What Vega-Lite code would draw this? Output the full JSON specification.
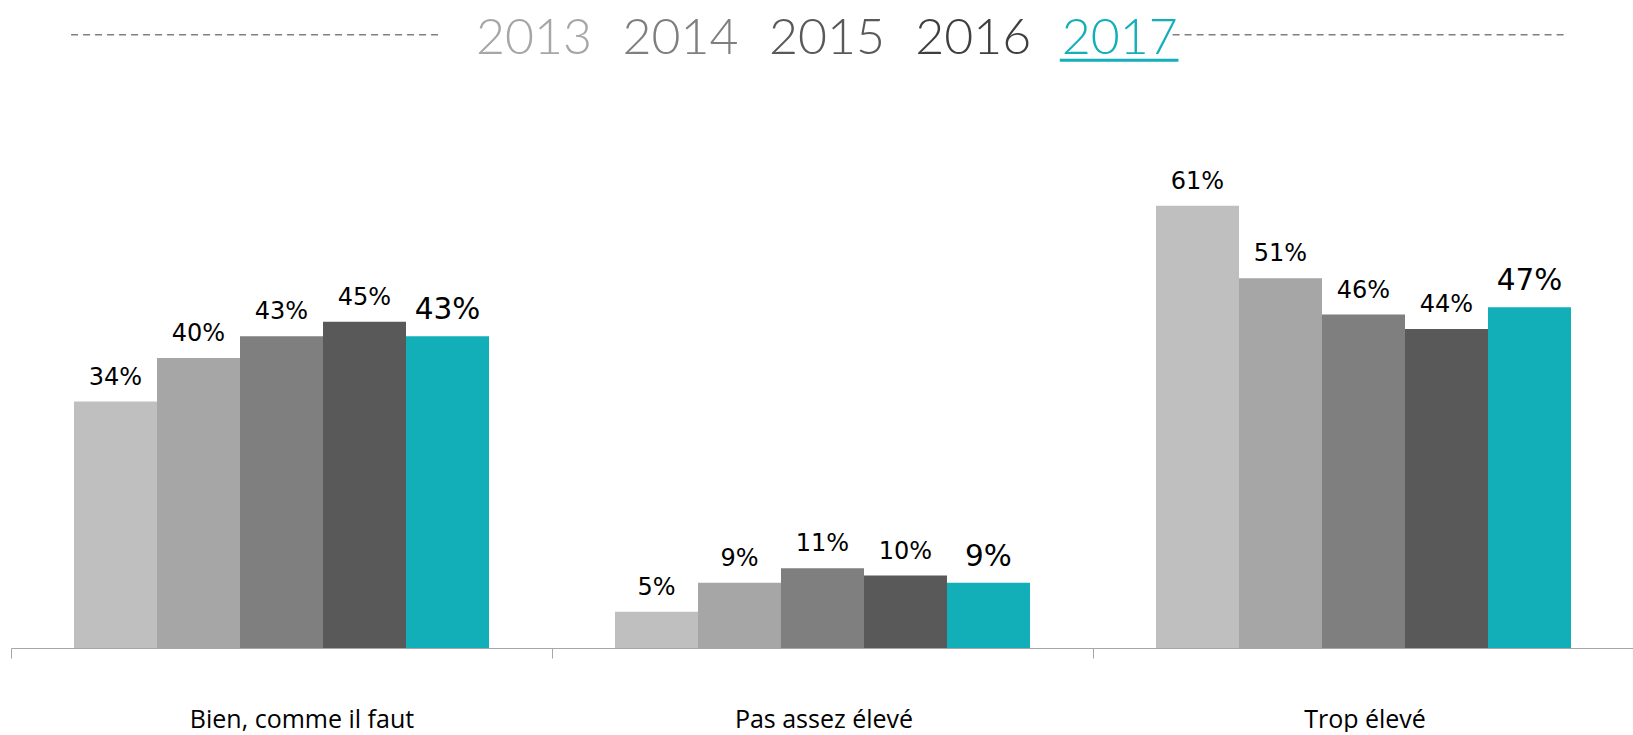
{
  "$schema": "https://vega.github.io/schema/vega-lite/v6.json",
  "width": 1623,
  "height": 648,
  "padding": {"left": 10, "top": 0, "right": 0, "bottom": 0},
  "background": "white",
  "config": {"view": {"stroke": null}},
  "datasets": {
    "bars": [
      {"category": "Bien, comme il faut", "year": "2013", "value": 0.34},
      {"category": "Bien, comme il faut", "year": "2014", "value": 0.40},
      {"category": "Bien, comme il faut", "year": "2015", "value": 0.43},
      {"category": "Bien, comme il faut", "year": "2016", "value": 0.45},
      {"category": "Bien, comme il faut", "year": "2017", "value": 0.43},
      {"category": "Pas assez élevé", "year": "2013", "value": 0.05},
      {"category": "Pas assez élevé", "year": "2014", "value": 0.09},
      {"category": "Pas assez élevé", "year": "2015", "value": 0.11},
      {"category": "Pas assez élevé", "year": "2016", "value": 0.10},
      {"category": "Pas assez élevé", "year": "2017", "value": 0.09},
      {"category": "Trop élevé", "year": "2013", "value": 0.61},
      {"category": "Trop élevé", "year": "2014", "value": 0.51},
      {"category": "Trop élevé", "year": "2015", "value": 0.46},
      {"category": "Trop élevé", "year": "2016", "value": 0.44},
      {"category": "Trop élevé", "year": "2017", "value": 0.47}
    ],
    "header": [
      {"year": 2013, "label": "2013"},
      {"year": 2014, "label": "2014"},
      {"year": 2015, "label": "2015"},
      {"year": 2016, "label": "2016"},
      {"year": 2017, "label": "2017"}
    ],
    "dashes": [
      {"from": 2009.84, "to": 2012.37},
      {"from": 2017.36, "to": 2020.04}
    ],
    "underline": [
      {"from": 2016.59, "to": 2017.40}
    ]
  },
  "layer": [
    {
      "data": {"name": "bars"},
      "layer": [
        {
          "mark": {"type": "bar"},
          "encoding": {
            "x": {
              "field": "category", "type": "nominal",
              "sort": ["Bien, comme il faut", "Pas assez élevé", "Trop élevé"],
              "scale": {"paddingInner": 0, "paddingOuter": 0},
              "axis": {
                "title": null, "labelAngle": 0, "tickBand": "extent",
                "domainColor": "#A6A6A6", "tickColor": "#A6A6A6",
                "tickSize": 10, "domainWidth": 1, "tickWidth": 1,
                "labelFont": "Open Sans", "labelFontSize": 25, "labelColor": "#000000",
                "labelPadding": 69, "labelBaseline": "alphabetic", "labelLimit": 0,
                "labelOffset": {"condition": {"test": "datum.value === 'Bien, comme il faut'", "value": 20}, "value": 1}
              }
            },
            "xOffset": {"field": "year", "type": "nominal", "scale": {"paddingOuter": 0.759, "paddingInner": 0}},
            "y": {"field": "value", "type": "quantitative", "scale": {"domain": [0, 0.894], "nice": false, "zero": true}, "axis": null},
            "color": {
              "field": "year", "type": "nominal",
              "scale": {"domain": ["2013", "2014", "2015", "2016", "2017"], "range": ["#BFBFBF", "#A6A6A6", "#7F7F7F", "#595959", "#13AFB8"]},
              "legend": null
            }
          }
        },
        {
          "mark": {"type": "text", "baseline": "alphabetic", "dy": -17, "font": "DejaVu Sans", "color": "#000000"},
          "encoding": {
            "x": {"field": "category", "type": "nominal", "sort": ["Bien, comme il faut", "Pas assez élevé", "Trop élevé"]},
            "xOffset": {"field": "year", "type": "nominal"},
            "y": {"field": "value", "type": "quantitative"},
            "text": {"field": "value", "type": "quantitative", "format": ".0%"},
            "size": {"condition": {"test": "datum.year === '2017'", "value": 29.5}, "value": 24}
          }
        }
      ]
    },
    {
      "layer": [
        {
          "data": {"name": "header"},
          "mark": {"type": "text", "font": "Lato", "fontWeight": 300, "fontSize": 50, "baseline": "alphabetic", "align": "center"},
          "encoding": {
            "x": {"field": "year", "type": "quantitative", "scale": {"domain": [2009.43, 2020.51], "nice": false, "zero": false}, "axis": null},
            "y": {"datum": 0.819, "type": "quantitative", "axis": null},
            "text": {"field": "label"},
            "color": {
              "field": "label", "type": "nominal",
              "scale": {"domain": ["2013", "2014", "2015", "2016", "2017"], "range": ["#A6A6A6", "#7F7F7F", "#595959", "#3F3F3F", "#13AFB8"]},
              "legend": null
            }
          }
        },
        {
          "data": {"name": "dashes"},
          "mark": {"type": "rule", "strokeDash": [7, 5], "color": "#808080", "strokeWidth": 1.5},
          "encoding": {
            "x": {"field": "from", "type": "quantitative"},
            "x2": {"field": "to"},
            "y": {"datum": 0.846, "type": "quantitative"}
          }
        },
        {
          "data": {"name": "underline"},
          "mark": {"type": "rule", "color": "#13AFB8", "strokeWidth": 3},
          "encoding": {
            "x": {"field": "from", "type": "quantitative"},
            "x2": {"field": "to"},
            "y": {"datum": 0.811, "type": "quantitative"}
          }
        }
      ]
    }
  ],
  "resolve": {"scale": {"x": "independent", "color": "independent"}}
}
